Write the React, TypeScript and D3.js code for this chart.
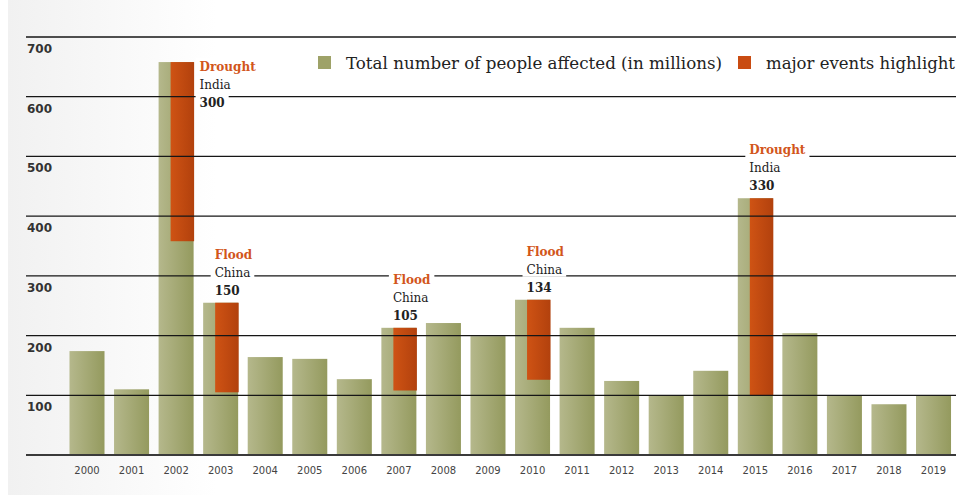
import React, { useEffect, useRef } from "react";
import * as d3 from "d3";

const years = ["2000","2001","2002","2003","2004","2005","2006","2007","2008","2009","2010","2011","2012","2013","2014","2015","2016","2017","2018","2019"];
const totals = [174,110,658,255,164,161,127,213,221,199,260,213,124,100,141,430,204,99,85,99];
const yTicks = [0,100,200,300,400,500,600,700];

const eventYears = ["2002","2003","2007","2010","2015"];
const eventTypes = ["Drought","Flood","Flood","Flood","Drought"];
const eventCountries = ["India","China","China","China","India"];
const eventValues = [300,150,105,134,330];

const legendLabels = ["Total number of people affected (in millions)", "major events highlight"];

const W = 956, H = 496;

export default function App() {
  const ref = useRef<SVGSVGElement>(null);
  useEffect(() => {
    const svg = d3.select(ref.current);
    svg.selectAll("*").remove();
    const defs = svg.append("defs");
    const bg = defs.append("linearGradient").attr("id", "bg").attr("x1", 0).attr("x2", 1).attr("y1", 0).attr("y2", 0);
    bg.append("stop").attr("offset", "0").attr("stop-color", "#f1f1f1");
    bg.append("stop").attr("offset", "0.22").attr("stop-color", "#ffffff");
    const gg = defs.append("linearGradient").attr("id", "gg").attr("x1", 0).attr("x2", 1).attr("y1", 0).attr("y2", 0);
    gg.append("stop").attr("offset", "0").attr("stop-color", "#b5b88c");
    gg.append("stop").attr("offset", "1").attr("stop-color", "#949a5e");
    const og = defs.append("linearGradient").attr("id", "og").attr("x1", 0).attr("x2", 1).attr("y1", 0).attr("y2", 0);
    og.append("stop").attr("offset", "0").attr("stop-color", "#cf5314");
    og.append("stop").attr("offset", "1").attr("stop-color", "#b2410d");

    svg.append("rect").attr("x", 8).attr("y", 0).attr("width", W - 8).attr("height", 495).attr("fill", "url(#bg)");

    const x = d3.scaleBand<string>().domain(years).range([64.72, 955.8]).paddingInner(0.214).paddingOuter(0.107);
    const y = d3.scaleLinear().domain([0, 700]).range([455, 37]);
    const bw = x.bandwidth();

    // green bars
    svg.append("g").selectAll("rect").data(years).join("rect")
      .attr("x", d => x(d)!)
      .attr("y", (d, i) => y(totals[i]))
      .attr("width", bw)
      .attr("height", (d, i) => y(0) - y(totals[i]))
      .attr("fill", "url(#gg)");

    // orange highlight segments
    svg.append("g").selectAll("rect").data(eventYears).join("rect")
      .attr("x", d => x(d)! + bw * 0.343)
      .attr("y", d => y(totals[years.indexOf(d)]))
      .attr("width", bw * 0.657 + 0.5)
      .attr("height", (d, i) => y(totals[years.indexOf(d)] - eventValues[i]) - y(totals[years.indexOf(d)]))
      .attr("fill", "url(#og)");

    // gridlines
    svg.append("g").selectAll("line").data(yTicks).join("line")
      .attr("x1", 26).attr("x2", W)
      .attr("y1", d => y(d)).attr("y2", d => y(d))
      .attr("stroke", d => d === 0 ? "#3a3a3a" : "#161616")
      .attr("stroke-width", d => d === 0 ? 2 : 1.3);

    // y labels
    svg.append("g").selectAll("text").data(yTicks.filter(t => t > 0)).join("text")
      .attr("x", 27).attr("y", d => y(d) + 16)
      .attr("font-family", "DejaVu Sans").attr("font-weight", "bold").attr("font-size", 12)
      .attr("fill", "#333").text(d => String(d));

    // x labels
    svg.append("g").selectAll("text").data(years).join("text")
      .attr("x", d => x(d)! + bw / 2).attr("y", 474)
      .attr("text-anchor", "middle")
      .attr("font-family", "DejaVu Sans").attr("font-size", 10)
      .attr("fill", "#444").text(d => d);

    // annotations
    eventYears.forEach((yr, i) => {
      const total = totals[years.indexOf(yr)];
      const top = y(total);
      let tx: number, b0: number;
      if (top < 100) {
        tx = x(yr)! + bw + 6;
        b0 = top + 9;
      } else {
        tx = x(yr)! + bw * 0.343 - 0.5;
        b0 = top - 8 - 36;
      }
      const lines = [
        { t: eventTypes[i], fill: "#d2561b", weight: "bold" },
        { t: eventCountries[i], fill: "#222", weight: "normal" },
        { t: String(eventValues[i]), fill: "#222", weight: "bold" },
      ];
      const g = svg.append("g");
      lines.forEach((ln, j) => {
        const by = b0 + j * 18;
        const r = g.append("rect").attr("fill", "#fff");
        const t = g.append("text").attr("x", tx).attr("y", by)
          .attr("font-family", "DejaVu Serif").attr("font-size", 12)
          .attr("font-weight", ln.weight).attr("fill", ln.fill).text(ln.t);
        const w = (t.node() as SVGTextElement).getComputedTextLength();
        r.attr("x", tx - 4).attr("y", by - 13).attr("width", w + 8).attr("height", 16);
      });
    });

    // legend
    const lg = svg.append("g");
    lg.append("rect").attr("x", 318).attr("y", 56).attr("width", 13).attr("height", 13).attr("fill", "#9ea268");
    lg.append("text").attr("x", 346).attr("y", 69).attr("font-family", "DejaVu Serif").attr("font-size", 16)
      .attr("fill", "#222").attr("textLength", 376).attr("lengthAdjust", "spacingAndGlyphs").text(legendLabels[0]);
    lg.append("rect").attr("x", 738).attr("y", 56).attr("width", 13).attr("height", 13).attr("fill", "#c94c12");
    lg.append("text").attr("x", 766).attr("y", 69).attr("font-family", "DejaVu Serif").attr("font-size", 16)
      .attr("fill", "#222").attr("textLength", 189).attr("lengthAdjust", "spacingAndGlyphs").text(legendLabels[1]);
  }, []);
  return (
    <svg ref={ref} width={W} height={H} style={{ position: "absolute", left: 0, top: 0, background: "#fff" }} />
  );
}
